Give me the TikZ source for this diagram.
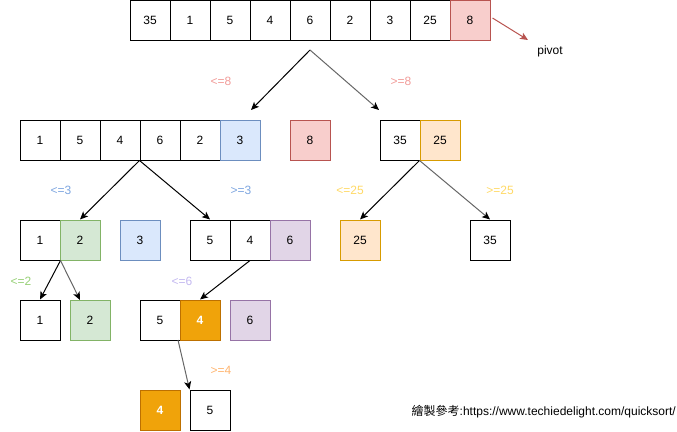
\documentclass[tikz,border=0pt]{standalone}
\usepackage{fontspec}
\setmainfont{Liberation Sans}
\newfontfamily\cjk{Noto Sans CJK TC}
\usetikzlibrary{arrows.meta}
\definecolor{redF}{HTML}{F8CECC}\definecolor{redS}{HTML}{B85450}
\definecolor{bluF}{HTML}{DAE8FC}\definecolor{bluS}{HTML}{6C8EBF}
\definecolor{grnF}{HTML}{D5E8D4}\definecolor{grnS}{HTML}{82B366}
\definecolor{purF}{HTML}{E1D5E7}\definecolor{purS}{HTML}{9673A6}
\definecolor{orgF}{HTML}{FFE6CC}\definecolor{orgS}{HTML}{D79B00}
\definecolor{ambF}{HTML}{F0A30A}\definecolor{ambS}{HTML}{BD7000}
\definecolor{lblRed}{HTML}{F19C99}
\definecolor{lblBlu}{HTML}{7EA6E0}
\definecolor{lblGld}{HTML}{FFD966}
\definecolor{lblGrn}{HTML}{97D077}
\definecolor{lblPur}{HTML}{C3B8F0}
\definecolor{lblOrg}{HTML}{FFB570}
\definecolor{arrGray}{HTML}{666666}
\begin{document}
\begin{tikzpicture}[x=1pt,y=-1pt,
  cell/.style={draw, line width=1pt, minimum size=40pt, inner sep=0pt, font=\fontsize{12}{14}\selectfont},
  red/.style={cell, fill=redF, draw=redS},
  blu/.style={cell, fill=bluF, draw=bluS},
  grn/.style={cell, fill=grnF, draw=grnS},
  pur/.style={cell, fill=purF, draw=purS},
  org/.style={cell, fill=orgF, draw=orgS},
  amb/.style={cell, fill=ambF, draw=ambS, text=white, font=\fontsize{12}{14}\selectfont\bfseries},
  lbl/.style={font=\fontsize{12}{14}\selectfont, inner sep=0pt},
  conn/.style={line width=1pt, -{Stealth[length=8pt,width=7pt,inset=2pt]}},
  gconn/.style={line width=1pt, draw=arrGray, -{Stealth[length=8pt,width=7pt,inset=2pt,color=black]}}
]
\useasboundingbox (0,0) rectangle (677,431);
% top row
\node[cell] (t1) at (150,20) {35};
\node[cell] (t2) at (190,20) {1};
\node[cell] (t3) at (230,20) {5};
\node[cell] (t4) at (270,20) {4};
\node[cell] (t5) at (310,20) {6};
\node[cell] (t6) at (350,20) {2};
\node[cell] (t7) at (390,20) {3};
\node[cell] (t8) at (430,20) {25};
\node[red] (t9) at (470,20) {8};
\node[lbl] (pivot) at (550,51) {pivot};
\draw[conn, draw=redS] (t9.east) ++(2,-2) coordinate (pv0) -- (528,40) coordinate (pv1);
% level 1 arrows
\coordinate (s0) at (310,50);
\coordinate (e0a) at (251,110);
\coordinate (e0b) at (379,110);
\draw[conn] (s0) -- (e0a);
\draw[gconn] (s0) -- (e0b);
\node[lbl, text=lblRed] (l8a) at (221,81) {<=8};
\node[lbl, text=lblRed] (l8b) at (401,81) {>=8};
% row 2
\node[cell] (a1) at (40,140) {1};
\node[cell] (a2) at (80,140) {5};
\node[cell] (a3) at (120,140) {4};
\node[cell] (a4) at (160,140) {6};
\node[cell] (a5) at (200,140) {2};
\node[blu] (a6) at (240,140) {3};
\node[red] (a7) at (310,140) {8};
\node[cell] (b1) at (400,140) {35};
\node[org] (b2) at (440,140) {25};
% row 3
\node[cell] (c1) at (40,240) {1};
\node[grn] (c2) at (80,240) {2};
\node[blu] (c3) at (140,240) {3};
\node[cell] (d1) at (210,240) {5};
\node[cell] (d2) at (250,240) {4};
\node[pur] (d3) at (290,240) {6};
\node[org] (f1) at (360,240) {25};
\node[cell] (f2) at (490,240) {35};
\draw[conn] (a4.south west) -- (c2.north);
\draw[conn] (a4.south west) -- (d1.north);
\draw[conn] (b2.south west) -- (f1.north);
\draw[gconn] (b2.south west) -- (f2.north);
\node[lbl, text=lblBlu] (l3a) at (61,190) {<=3};
\node[lbl, text=lblBlu] (l3b) at (241,190) {>=3};
\node[lbl, text=lblGld] (l25a) at (350,190) {<=25};
\node[lbl, text=lblGld] (l25b) at (500,190) {>=25};
% row 4
\node[cell] (g1) at (40,320) {1};
\node[grn] (g2) at (90,320) {2};
\node[cell] (h1) at (160,320) {5};
\node[amb] (h2) at (200,320) {4};
\node[pur] (h3) at (250,320) {6};
\coordinate (g2t) at (80,300);
\draw[conn] (c1.south east) -- (g1.north);
\draw[gconn] (c1.south east) -- (g2t);
\draw[conn] (d2.south) -- (h2.north);
\node[lbl, text=lblGrn] (l2) at (21,281) {<=2};
\node[lbl, text=lblPur] (l6) at (182,281) {<=6};
% row 5
\node[amb] (k1) at (160,410) {4};
\node[cell] (k2) at (210,410) {5};
\coordinate (h1b) at (178,340);
\draw[gconn] (h1b) -- (k2.north west);
\node[lbl, text=lblOrg] (l4) at (221,370) {>=4};
% credit
\node[lbl, anchor=east] (credit) at (676,412) {{\cjk 繪製參考}:https://www.techiedelight.com/quicksort/};
\end{tikzpicture}
\end{document}
